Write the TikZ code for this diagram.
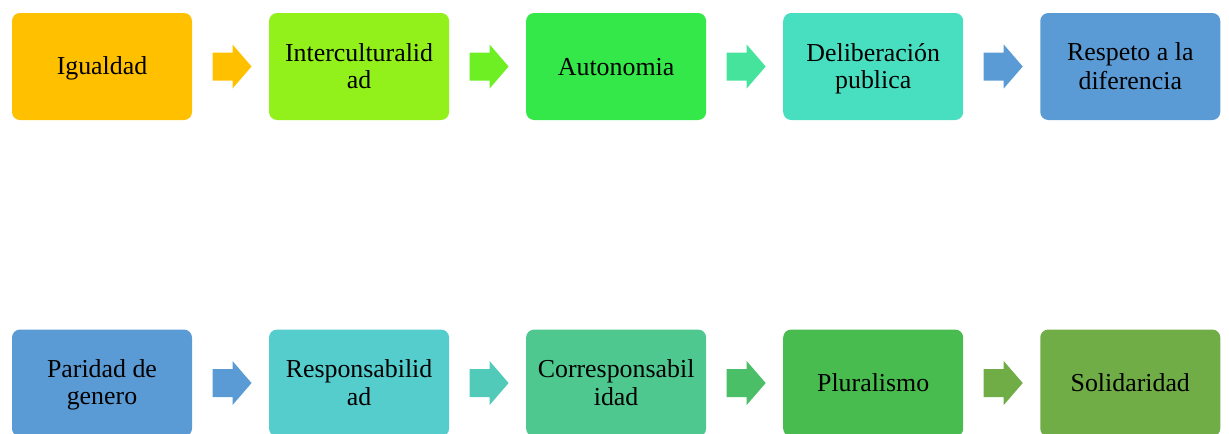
\documentclass[tikz,border=0pt]{standalone}
\usepackage{fontspec}
\setmainfont{Liberation Serif}
\usetikzlibrary{positioning,calc}
\definecolor{cIgualdad}{HTML}{FFC000}
\definecolor{cIntercult}{HTML}{93F11B}
\definecolor{cFlechaB}{HTML}{6DEF24}
\definecolor{cAutonomia}{HTML}{33E848}
\definecolor{cFlechaC}{HTML}{46E39C}
\definecolor{cDeliber}{HTML}{48DFC1}
\definecolor{cAzul}{HTML}{5B9BD5}
\definecolor{cRespons}{HTML}{56CDCD}
\definecolor{cFlechaF}{HTML}{52CABA}
\definecolor{cCorresp}{HTML}{4FC890}
\definecolor{cFlechaG}{HTML}{4BBF68}
\definecolor{cPlural}{HTML}{49BC50}
\definecolor{cSolidar}{HTML}{70AD47}
\newcommand{\puntal}{\rule[-3.5pt]{0pt}{19.75pt}}
\tikzset{
	valor/.style={
			rounded corners=6pt, inner sep=0pt, align=center,
			minimum width=135pt, minimum height=80.25pt,
			font=\fontsize{19.4}{20.25}\selectfont
		},
	pics/flecha/.style={
			code={\fill[#1] (-18,-14) -- (2,-14) -- (2,-22) -- (21,0) -- (2,22) -- (2,14) -- (-18,14) -- cycle;}
		}
}

\begin{document}
\begin{tikzpicture}[x=0.75pt, y=-0.75pt, node distance=57.4pt]
        \useasboundingbox (0,0) rectangle (1229,433);

        % First row of values
        \node[valor, fill=cIgualdad] (igualdad) at (102,66.5) {\puntal Igualdad};
        \node[valor, fill=cIntercult, right=of igualdad] (intercult) {\puntal Interculturalid\\\puntal ad};
        \node[valor, fill=cAutonomia, right=of intercult] (autonomia) {\puntal Autonomia};
        \node[valor, fill=cDeliber, right=of autonomia] (deliber) {\puntal Deliberación\\\puntal publica};
        \node[valor, fill=cAzul, right=of deliber] (respeto) {\puntal Respeto a la\\\puntal diferencia};

        % Second row of values
        \node[valor, fill=cAzul, below=156.75pt of igualdad] (paridad) {\puntal Paridad de\\\puntal genero};
        \node[valor, fill=cRespons, right=of paridad] (respons) {\puntal Responsabilid\\\puntal ad};
        \node[valor, fill=cCorresp, right=of respons] (corresp) {\puntal Corresponsabil\\\puntal idad};
        \node[valor, fill=cPlural, right=of corresp] (plural) {\puntal Pluralismo};
        \node[valor, fill=cSolidar, right=of plural] (solidar) {\puntal Solidaridad};

        % Block arrows between the boxes
        \pic at ($(igualdad.east)!0.5!(intercult.west)$) {flecha=cIgualdad};
        \pic at ($(intercult.east)!0.5!(autonomia.west)$) {flecha=cFlechaB};
        \pic at ($(autonomia.east)!0.5!(deliber.west)$) {flecha=cFlechaC};
        \pic at ($(deliber.east)!0.5!(respeto.west)$) {flecha=cAzul};

        \pic at ($(paridad.east)!0.5!(respons.west)$) {flecha=cAzul};
        \pic at ($(respons.east)!0.5!(corresp.west)$) {flecha=cFlechaF};
        \pic at ($(corresp.east)!0.5!(plural.west)$) {flecha=cFlechaG};
        \pic at ($(plural.east)!0.5!(solidar.west)$) {flecha=cSolidar};

    \end{tikzpicture}
\end{document}
